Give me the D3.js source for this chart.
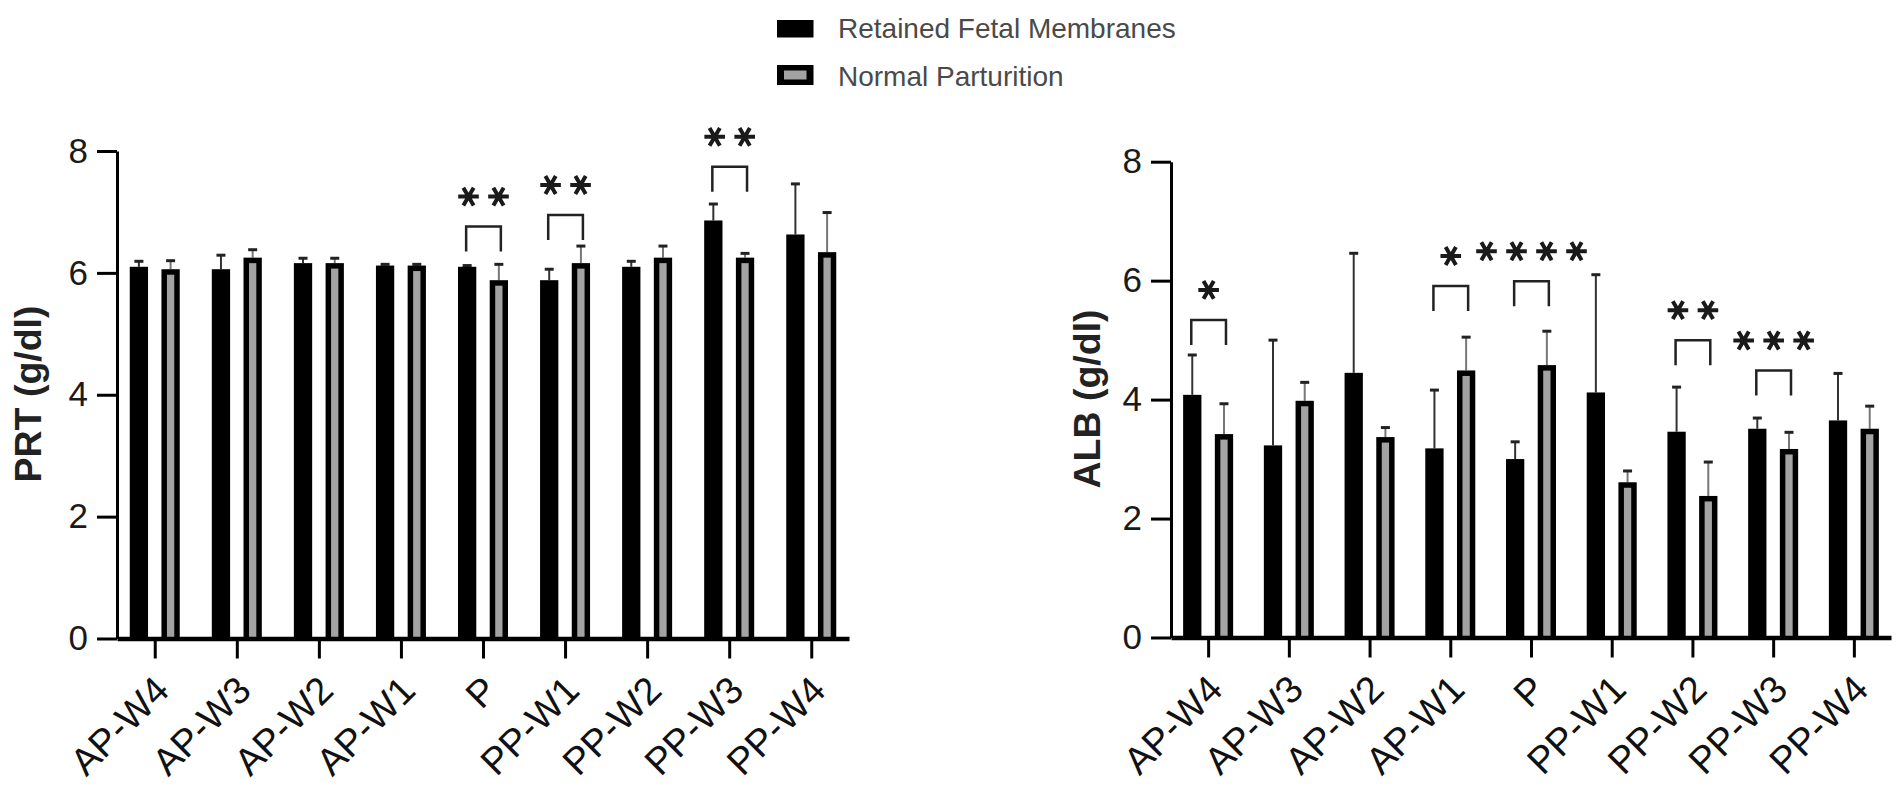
<!DOCTYPE html>
<html>
<head>
<meta charset="utf-8">
<script src="https://cdn.jsdelivr.net/npm/d3@7/dist/d3.min.js"></script>
<style>
  body { margin: 0; background: #fff; }
  svg { display: block; }
</style>
</head>
<body>
<div id="chart"></div>
<script>
// categories and series
var categories = ["AP-W4", "AP-W3", "AP-W2", "AP-W1", "P", "PP-W1", "PP-W2", "PP-W3", "PP-W4"];
var seriesNames = ["Retained Fetal Membranes", "Normal Parturition"];
var yTicks = [0, 2, 4, 6, 8];

// PRT (g/dl), mean and SD
var prtRetained   = [6.10, 6.06, 6.16, 6.12, 6.10, 5.88, 6.10, 6.86, 6.63];
var prtRetainedSd = [0.09, 0.23, 0.08, 0.02, 0.02, 0.18, 0.09, 0.27, 0.83];
var prtNormal     = [6.06, 6.25, 6.16, 6.12, 5.88, 6.16, 6.25, 6.25, 6.34];
var prtNormalSd   = [0.14, 0.13, 0.08, 0.02, 0.26, 0.28, 0.19, 0.07, 0.65];

// ALB (g/dl)
var albRetained   = [4.08, 3.23, 4.45, 3.18, 3.00, 4.12, 3.46, 3.51, 3.65];
var albRetainedSd = [0.67, 1.77, 2.01, 0.98, 0.29, 1.98, 0.75, 0.18, 0.79];
var albNormal     = [3.42, 3.98, 3.37, 4.49, 4.58, 2.61, 2.38, 3.17, 3.51];
var albNormalSd   = [0.51, 0.31, 0.16, 0.56, 0.57, 0.19, 0.57, 0.28, 0.38];

// significance: category, number of stars, bracket height (axis units)
var prtSig = [
  { cat: "P", stars: 2, level: 6.76 },
  { cat: "PP-W1", stars: 2, level: 6.95 },
  { cat: "PP-W3", stars: 2, level: 7.74 }
];
var albSig = [
  { cat: "AP-W4", stars: 1, level: 5.34 },
  { cat: "AP-W1", stars: 1, level: 5.91 },
  { cat: "P", stars: 4, level: 5.99 },
  { cat: "PP-W2", stars: 2, level: 5.00 },
  { cat: "PP-W3", stars: 3, level: 4.49 }
];

var W = 1901, H = 791;
var GRAY = "#a3a3a3";
var FONT = "'Liberation Sans', Arial, sans-serif";

var svg = d3.select("#chart").append("svg")
    .attr("width", W)
    .attr("height", H);

function drawPanel(cfg) {
    var g = svg.append("g");

    var x = d3.scalePoint().domain(categories).range([cfg.x0, cfg.x1]).padding(0.46);
    var sub = d3.scaleBand().domain(["r", "n"]).range([-25, 25]).paddingInner(0.423);
    var bw = sub.bandwidth();
    var y = d3.scaleLinear().domain([0, 8]).range([cfg.yBottom, cfg.yTop]);

    var rows = categories.map(function (c, i) {
        return { cat: c, r: cfg.r[i], rs: cfg.rs[i], n: cfg.n[i], ns: cfg.ns[i] };
    });

    // error bars (upper only)
    [["r", "rs", "#333"], ["n", "ns", "#777"]].forEach(function (s) {
        var cx = function (d) { return x(d.cat) + sub(s[0]) + bw / 2; };
        g.selectAll(".err-" + s[0]).data(rows).join("line")
            .attr("x1", cx).attr("x2", cx)
            .attr("y1", function (d) { return y(d[s[0]]); })
            .attr("y2", function (d) { return y(d[s[0]] + d[s[1]]); })
            .attr("stroke", s[2])
            .attr("stroke-width", 2);
        g.selectAll(".cap-" + s[0]).data(rows).join("line")
            .attr("x1", function (d) { return cx(d) - 4.5; })
            .attr("x2", function (d) { return cx(d) + 4.5; })
            .attr("y1", function (d) { return y(d[s[0]] + d[s[1]]); })
            .attr("y2", function (d) { return y(d[s[0]] + d[s[1]]); })
            .attr("stroke", "#222")
            .attr("stroke-width", 3);
    });

    // black bars
    g.selectAll(".bar-r").data(rows).join("rect")
        .attr("x", function (d) { return x(d.cat) + sub("r"); })
        .attr("y", function (d) { return y(d.r); })
        .attr("width", bw)
        .attr("height", function (d) { return y(0) - y(d.r); })
        .attr("fill", "#000");

    // gray bars with thick black border
    g.selectAll(".bar-n").data(rows).join("rect")
        .attr("x", function (d) { return x(d.cat) + sub("n"); })
        .attr("y", function (d) { return y(d.n); })
        .attr("width", bw)
        .attr("height", function (d) { return y(0) - y(d.n); })
        .attr("fill", "#000");
    g.selectAll(".bar-n-in").data(rows).join("rect")
        .attr("x", function (d) { return x(d.cat) + sub("n") + 5.5; })
        .attr("y", function (d) { return y(d.n) + 5.5; })
        .attr("width", bw - 11)
        .attr("height", function (d) { return y(0) - y(d.n) - 5.5; })
        .attr("fill", GRAY);

    // y axis
    var ya = g.append("g")
        .attr("transform", "translate(" + cfg.x0 + ",0)")
        .call(d3.axisLeft(y).tickValues(yTicks).tickFormat(d3.format("d"))
            .tickSize(20).tickSizeOuter(0).tickPadding(9));
    ya.select(".domain").attr("stroke", "#000").attr("stroke-width", 3);
    ya.selectAll(".tick line").attr("stroke", "#000").attr("stroke-width", 3);
    ya.selectAll(".tick text")
        .style("font-family", FONT)
        .style("font-size", "35px")
        .attr("fill", "#1a1a1a");

    // x axis
    var xa = g.append("g")
        .attr("transform", "translate(0," + y(0) + ")")
        .call(d3.axisBottom(x).tickSize(20).tickSizeOuter(0));
    xa.select(".domain").attr("stroke", "#000").attr("stroke-width", 4.3);
    xa.selectAll(".tick line").attr("stroke", "#000").attr("stroke-width", 3);
    xa.selectAll(".tick text")
        .attr("x", 0).attr("y", 0).attr("dy", 0)
        .attr("transform", "translate(16,54) rotate(-45)")
        .style("text-anchor", "end")
        .style("font-family", FONT)
        .style("font-size", "38px")
        .attr("fill", "#111");

    // y title
    g.append("text")
        .attr("transform", "translate(" + cfg.titleX + "," + cfg.titleY + ") rotate(-90)")
        .style("text-anchor", "middle")
        .style("font-family", FONT)
        .style("font-size", "37.5px")
        .style("font-weight", "bold")
        .attr("fill", "#222")
        .text(cfg.title);

    // significance brackets and stars
    var leg = 25;
    cfg.sig.forEach(function (s) {
        var xl = x(s.cat) + sub("r") + bw / 2 - 1;
        var xr = x(s.cat) + sub("n") + bw / 2 + 2;
        var yb = y(s.level);
        g.append("path")
            .attr("d", "M" + xl + "," + (yb + leg) + "V" + yb + "H" + xr + "V" + (yb + leg))
            .attr("fill", "none")
            .attr("stroke", "#222")
            .attr("stroke-width", 2.5);
        var mid = (xl + xr) / 2;
        d3.range(s.stars).forEach(function (k) {
            g.append("path")
                .attr("transform", "translate(" + (mid + (k - (s.stars - 1) / 2) * 30) + "," + (yb - 30) + ") rotate(90)")
                .attr("d", d3.symbol(d3.symbolAsterisk, 300)())
                .attr("fill", "none")
                .attr("stroke", "#1a1a1a")
                .attr("stroke-width", 4);
        });
    });
}

drawPanel({
    x0: 117, x1: 849, yBottom: 638.5, yTop: 151,
    r: prtRetained, rs: prtRetainedSd, n: prtNormal, ns: prtNormalSd,
    sig: prtSig, title: "PRT (g/dl)", titleX: 41, titleY: 394
});

drawPanel({
    x0: 1171, x1: 1891, yBottom: 637.5, yTop: 161.7,
    r: albRetained, rs: albRetainedSd, n: albNormal, ns: albNormalSd,
    sig: albSig, title: "ALB (g/dl)", titleX: 1100, titleY: 399
});

// legend
var legend = svg.append("g").attr("transform", "translate(777,0)");
var legendY = [20, 65];
seriesNames.forEach(function (name, i) {
    if (i === 0) {
        legend.append("rect").attr("x", 0).attr("y", legendY[i])
            .attr("width", 36.5).attr("height", 17.5).attr("fill", "#000");
    } else {
        legend.append("rect").attr("x", 0).attr("y", legendY[i])
            .attr("width", 36.5).attr("height", 20).attr("fill", "#000");
        legend.append("rect").attr("x", 7).attr("y", legendY[i] + 5.5)
            .attr("width", 22.5).attr("height", 9).attr("fill", GRAY);
    }
    legend.append("text")
        .attr("x", 61)
        .attr("y", legendY[i] + (i === 0 ? 17.5 : 21))
        .style("font-family", FONT)
        .style("font-size", "28px")
        .attr("fill", "#4a4a4a")
        .text(name);
});
</script>
</body>
</html>
